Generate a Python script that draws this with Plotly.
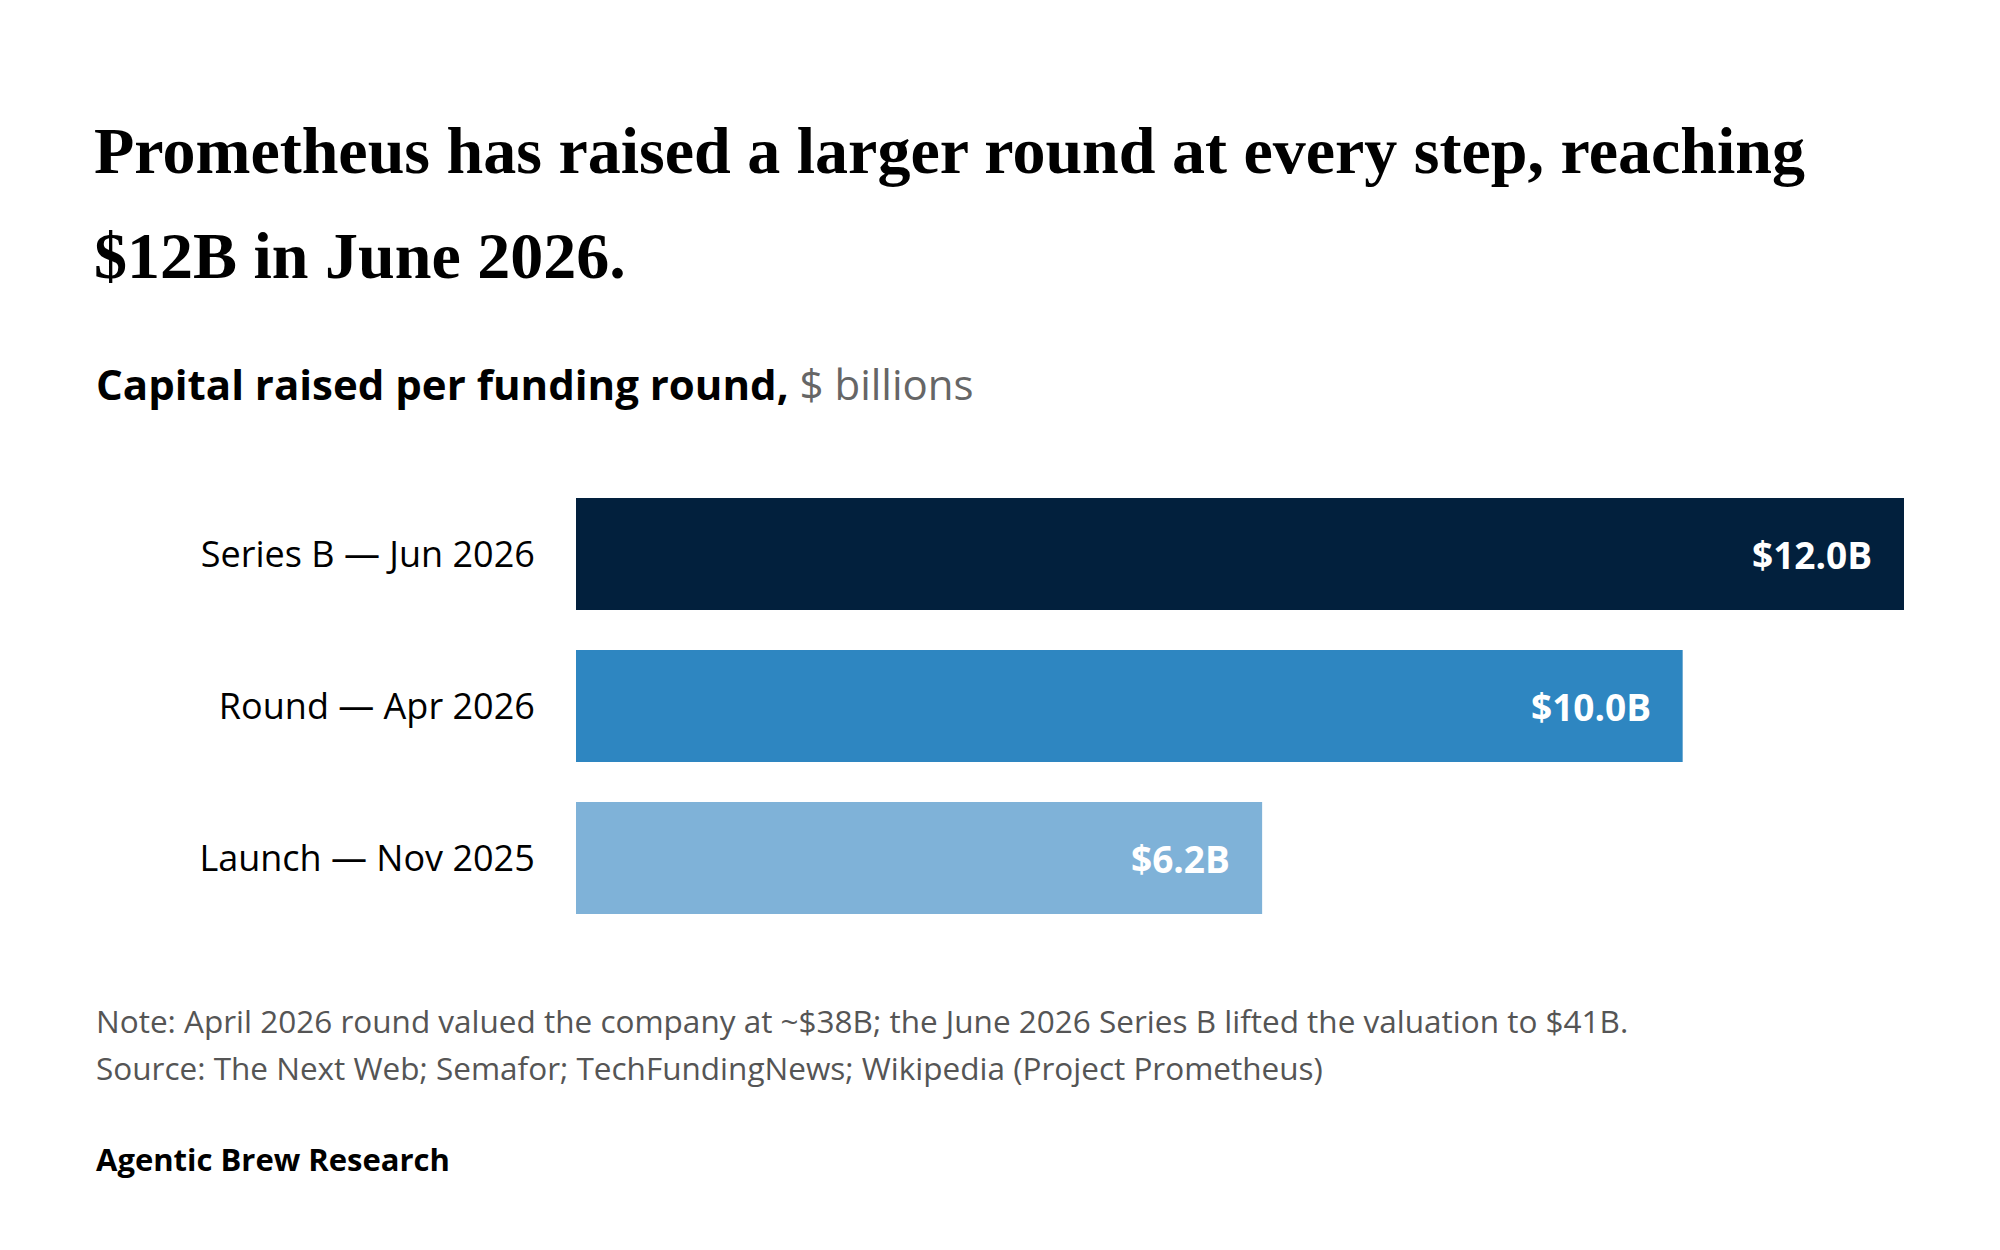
import plotly.graph_objects as go

categories = ["Launch — Nov 2025", "Round — Apr 2026", "Series B — Jun 2026"]
values = [6.2, 10.0, 12.0]
bar_labels = ["$6.2B", "$10.0B", "$12.0B"]
bar_colors = ["#7fb2d8", "#2e86c1", "#02203d"]

title_lines = ["Prometheus has raised a larger round at every step, reaching", "$12B in June 2026."]
subtitle_bold = "Capital raised per funding round,"
subtitle_unit = "$ billions"
note_text = "Note: April 2026 round valued the company at ~$38B; the June 2026 Series B lifted the valuation to $41B."
source_text = "Source: The Next Web; Semafor; TechFundingNews; Wikipedia (Project Prometheus)"
brand_text = "Agentic Brew Research"

W, H = 2000, 1250
L, R, T, B = 576, 96, 478, 316
PH = H - T - B

def py(px):
    return (H - B - px) / PH

def px_x(px):
    return (px - L) / (W - L - R)

SANS = "'Open Sans', Lato, sans-serif"
SERIF = "'Liberation Serif', 'DejaVu Serif', serif"

fig = go.Figure()
fig.add_trace(go.Bar(
    y=categories, x=values, orientation="h",
    marker=dict(color=bar_colors, line=dict(width=0)),
    hoverinfo="skip",
))

annotations = []
for c, v, lab in zip(categories, values, bar_labels):
    annotations.append(dict(x=v, y=c, xref="x", yref="y", text=f"<b>{lab}</b>",
                            showarrow=False, xanchor="right", yanchor="middle", xshift=-30,
                            font=dict(family=SANS, size=37, color="white")))

annotations += [
    dict(x=px_x(92), y=py(150), xref="paper", yref="paper", text=f"<b>{title_lines[0]}</b>", showarrow=False,
         xanchor="left", yanchor="middle", font=dict(family=SERIF, size=66, color="black")),
    dict(x=px_x(92), y=py(255), xref="paper", yref="paper", text=f"<b>{title_lines[1]}</b>", showarrow=False,
         xanchor="left", yanchor="middle", font=dict(family=SERIF, size=66, color="black")),
    dict(x=px_x(94), y=py(384), xref="paper", yref="paper",
         text=f"<b>{subtitle_bold}</b> <span style='color:#666666'>{subtitle_unit}</span>",
         showarrow=False, xanchor="left", yanchor="middle", font=dict(family=SANS, size=42, color="black")),
    dict(x=px_x(94), y=py(1020), xref="paper", yref="paper", text=note_text, showarrow=False,
         xanchor="left", yanchor="middle", font=dict(family=SANS, size=31.5, color="#555555")),
    dict(x=px_x(94), y=py(1067), xref="paper", yref="paper", text=source_text, showarrow=False,
         xanchor="left", yanchor="middle", font=dict(family=SANS, size=31.5, color="#555555")),
    dict(x=px_x(94), y=py(1159), xref="paper", yref="paper", text=f"<b>{brand_text}</b>", showarrow=False,
         xanchor="left", yanchor="middle", font=dict(family=SANS, size=31, color="black")),
]

fig.update_layout(
    width=W, height=H,
    margin=dict(l=L, r=R, t=T, b=B, pad=0),
    paper_bgcolor="white", plot_bgcolor="white",
    bargap=0.263,
    showlegend=False,
    annotations=annotations,
    xaxis=dict(range=[0, 12], visible=False, fixedrange=True),
    yaxis=dict(categoryorder="array", categoryarray=categories, showgrid=False, zeroline=False,
               showline=False, ticks="outside", ticklen=33, tickcolor="rgba(0,0,0,0)",
               tickfont=dict(family=SANS, size=36, color="black"), fixedrange=True),
)

fig.write_html("out.html", config={"displayModeBar": False})
